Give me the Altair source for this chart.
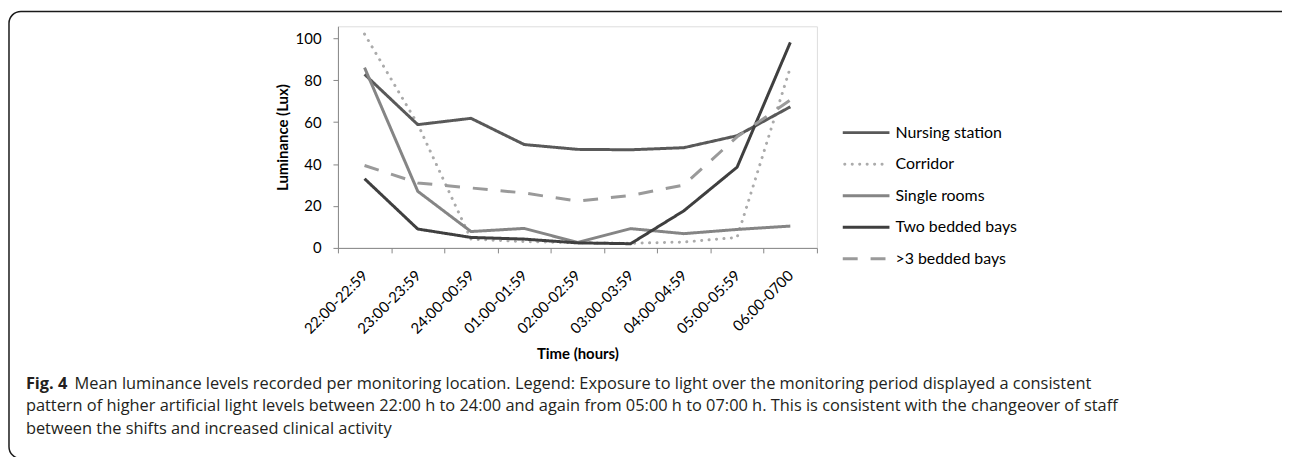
import altair as alt
import pandas as pd

# ---- data ----
categories = ["22:00-22:59", "23:00-23:59", "24:00-00:59", "01:00-01:59", "02:00-02:59",
              "03:00-03:59", "04:00-04:59", "05:00-05:59", "06:00-0700"]
series_names = ["Nursing station", "Corridor", "Single rooms", "Two bedded  bays", ">3 bedded bays"]
nursing_station = [82.8, 58.8, 61.8, 49.3, 47.0, 46.8, 47.8, 53.5, 67.3]
corridor = [102.0, 59.0, 4.2, 3.0, 2.5, 2.2, 2.8, 5.0, 86.0]
single_rooms = [86.0, 27.0, 7.8, 9.3, 2.6, 9.2, 6.8, 8.8, 10.4]
two_bedded = [33.0, 9.0, 5.0, 4.2, 2.4, 2.0, 17.7, 38.5, 98.0]
three_bedded = [39.3, 31.0, 28.6, 26.2, 22.3, 25.0, 30.0, 53.0, 70.5]
y_ticks = [0, 20, 40, 60, 80, 100]
caption_bold = "Fig. 4"
caption_lines = [
    "Mean luminance levels recorded per monitoring location. Legend: Exposure to light over the monitoring period displayed a consistent",
    "pattern of higher artificial light levels between 22:00 h to 24:00 and again from 05:00 h to 07:00 h. This is consistent with the changeover of staff",
    "between the shifts and increased clinical activity",
]

# ---- styles ----
colors = ["#595959", "#ababab", "#858585", "#3f3f3f", "#9a9a9a"]
dashes = [[1, 0], [0.1, 7.4], [1, 0], [1, 0], [15, 13]]
FONT = "Lato"
CAP_FONT = "Open Sans"

values = [nursing_station, corridor, single_rooms, two_bedded, three_bedded]
rows = []
for name, vals in zip(series_names, values):
    for c, v in zip(categories, vals):
        rows.append({"series": name, "time": c, "lux": v})
df = pd.DataFrame(rows)
legend_df = pd.DataFrame({"series": series_names})

W, H = 482, 223
color_enc = alt.Color("series:N", scale=alt.Scale(domain=series_names, range=colors), legend=None)
dash_enc = alt.StrokeDash("series:N", scale=alt.Scale(domain=series_names, range=dashes), legend=None)

x_enc = alt.X("time:N", sort=categories,
              scale=alt.Scale(type="band", paddingInner=0, paddingOuter=0),
              axis=alt.Axis(title="Time (hours)", tickBand="extent", labelAngle=315,
                            labelAlign="right", labelBaseline="middle", labelPadding=20,
                            labelFontSize=15, labelFont=FONT, labelColor="#000",
                            domainColor="#868686", tickColor="#868686", tickSize=5,
                            titleFont=FONT, titleFontSize=15, titleFontWeight="bold",
                            titleColor="#000", titlePadding=10))
y_enc = alt.Y("lux:Q", scale=alt.Scale(domain=[0, 105.7], nice=False),
              axis=alt.Axis(title="Luminance (Lux)", values=y_ticks, grid=False,
                            labelFontSize=15, labelFont=FONT, labelColor="#000", labelPadding=12,
                            domainColor="#868686", tickColor="#868686", tickSize=5,
                            titleFont=FONT, titleFontSize=15, titleFontWeight="bold",
                            titleColor="#000", titlePadding=5))

base = alt.Chart(df)
lines_main = base.transform_filter(alt.datum.series != "Corridor").mark_line(
    strokeWidth=3, strokeJoin="round", strokeCap="butt").encode(
    x=x_enc, y=y_enc, color=color_enc, strokeDash=dash_enc, detail="series:N")
lines_corr = base.transform_filter(alt.datum.series == "Corridor").mark_line(
    strokeWidth=3, strokeJoin="round", strokeCap="round").encode(
    x=x_enc, y=y_enc, color=color_enc, strokeDash=dash_enc, detail="series:N")
lines = alt.layer(lines_corr, lines_main)

leg_y = alt.Y("series:N", sort=series_names,
              scale=alt.Scale(type="point", domain=series_names, range=[107, 234], padding=0),
              axis=None)
leg_base = alt.Chart(legend_df)
leg_rule = leg_base.transform_filter(alt.datum.series != "Corridor").mark_rule(
    strokeWidth=3, strokeCap="butt").encode(
    x=alt.value(508), x2=alt.value(555), y=leg_y, color=color_enc, strokeDash=dash_enc)
leg_rule_c = leg_base.transform_filter(alt.datum.series == "Corridor").mark_rule(
    strokeWidth=3, strokeCap="round").encode(
    x=alt.value(510), x2=alt.value(555), y=leg_y, color=color_enc, strokeDash=dash_enc)
leg_text = leg_base.mark_text(align="left", baseline="middle", font=FONT, fontSize=16,
                              color="#000").encode(
    x=alt.value(561), y=leg_y, text="series:N")
legend = alt.layer(leg_rule, leg_rule_c, leg_text)

frame = alt.Chart(pd.DataFrame({"k": [0]})).mark_rect(
    fillOpacity=0, stroke="#1a1a1a", strokeWidth=1.5, cornerRadius=12).encode(
    x=alt.value(-331), x2=alt.value(966), y=alt.value(-15), y2=alt.value(435))

CAP_SIZE = 16.5
cap_df = pd.DataFrame({"t": [caption_bold]})
cap_bold = alt.Chart(cap_df).mark_text(align="left", baseline="alphabetic", font=CAP_FONT,
                                       fontSize=CAP_SIZE, fontWeight="bold", color="#231f20").encode(
    x=alt.value(26 - 340), y=alt.value(390 - 25), text="t:N")
cap_layers = []
cap_x = [75 - 340, 26 - 340, 26 - 340]
cap_y = [390 - 25, 412.5 - 25, 435 - 25]
for line, xx, yy in zip(caption_lines, cap_x, cap_y):
    cap_layers.append(alt.Chart(pd.DataFrame({"t": [line]})).mark_text(
        align="left", baseline="alphabetic", font=CAP_FONT, fontSize=CAP_SIZE,
        color="#231f20").encode(x=alt.value(xx), y=alt.value(yy), text="t:N"))

chart = alt.layer(lines, legend, frame, cap_bold, *cap_layers).resolve_scale(
    y="independent").properties(
    width=W, height=H,
    autosize=alt.AutoSizeParams(type="none"),
    padding={"left": 332, "top": 17, "right": 1282 - 332 - W, "bottom": 449 - 17 - H},
).configure_view(stroke="transparent").configure(background="white")

chart.save("out.html", embed_options={"renderer": "svg", "actions": False})
